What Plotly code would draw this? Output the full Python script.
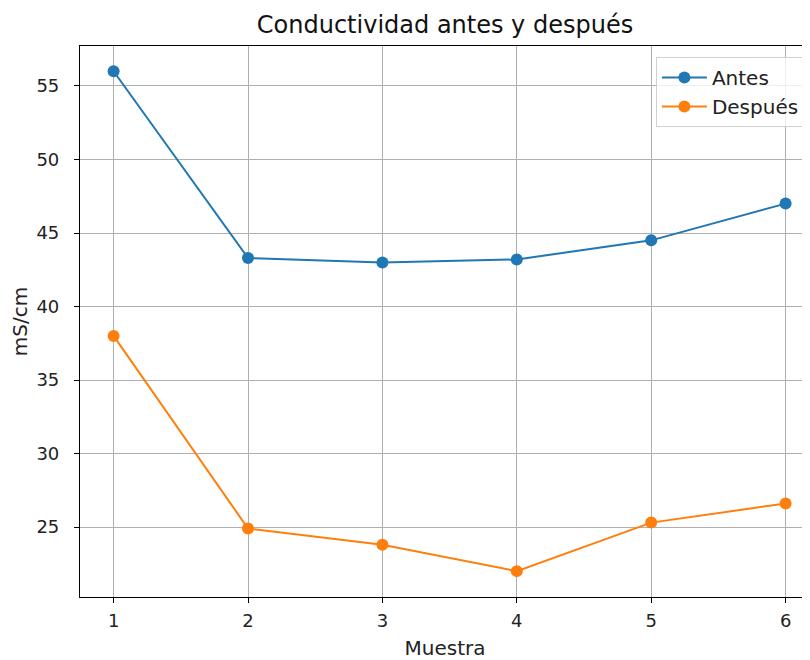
import plotly.graph_objects as go

muestras = [1, 2, 3, 4, 5, 6]
antes = [56.0, 43.3, 43.0, 43.2, 44.5, 47.0]
despues = [38.0, 24.9, 23.8, 22.0, 25.3, 26.6]
y_ticks = [25, 30, 35, 40, 45, 50, 55]

FONT = "DejaVu Sans"
# page body has an 8px default margin, so the figure is sized to compensate
W, H = 802, 652

fig = go.Figure()
fig.add_trace(go.Scatter(x=muestras, y=antes, mode="lines+markers", name="Antes",
                         line=dict(color="#1f77b4", width=2),
                         marker=dict(color="#1f77b4", size=12)))
fig.add_trace(go.Scatter(x=muestras, y=despues, mode="lines+markers", name="Después",
                         line=dict(color="#ff7f0e", width=2),
                         marker=dict(color="#ff7f0e", size=12)))

fig.update_layout(
    width=W, height=H,
    margin=dict(l=72, r=0, t=38, b=63),
    paper_bgcolor="white", plot_bgcolor="white",
    font=dict(family=FONT, size=18, color="#222"),
    title=dict(text="Conductividad antes y después", x=0.5, xref="paper",
               y=1 - 17 / H, yanchor="middle", font=dict(family=FONT, size=24, color="#111")),
    showlegend=True,
    legend=dict(x=0.993, y=0.98, xanchor="right", yanchor="top",
                bgcolor="rgba(255,255,255,0.8)", bordercolor="#d0d0d0", borderwidth=1,
                font=dict(family=FONT, size=20, color="#222"), tracegroupgap=2,
                itemwidth=45),
    xaxis=dict(range=[0.75, 0.75 + 730 / 134.4], tickvals=muestras,
               ticktext=[str(m) for m in muestras],
               showgrid=True, gridcolor="#b0b0b0", gridwidth=1,
               showline=True, linecolor="black", linewidth=1.2, mirror=True,
               ticks="outside", ticklen=5, tickcolor="black", zeroline=False,
               tickfont=dict(size=18), ticklabelstandoff=2,
               title=dict(text="Muestra", font=dict(family=FONT, size=20, color="#222"), standoff=14)),
    yaxis=dict(range=[20.24, 57.72], tickvals=y_ticks,
               showgrid=True, gridcolor="#b0b0b0", gridwidth=1,
               showline=True, linecolor="black", linewidth=1.2, mirror=False,
               ticks="outside", ticklen=5, tickcolor="black", zeroline=False,
               tickfont=dict(size=18), ticklabelstandoff=11,
               title=dict(text="mS/cm", font=dict(family=FONT, size=20, color="#222"), standoff=4)),
)

fig.write_html("out.html")
